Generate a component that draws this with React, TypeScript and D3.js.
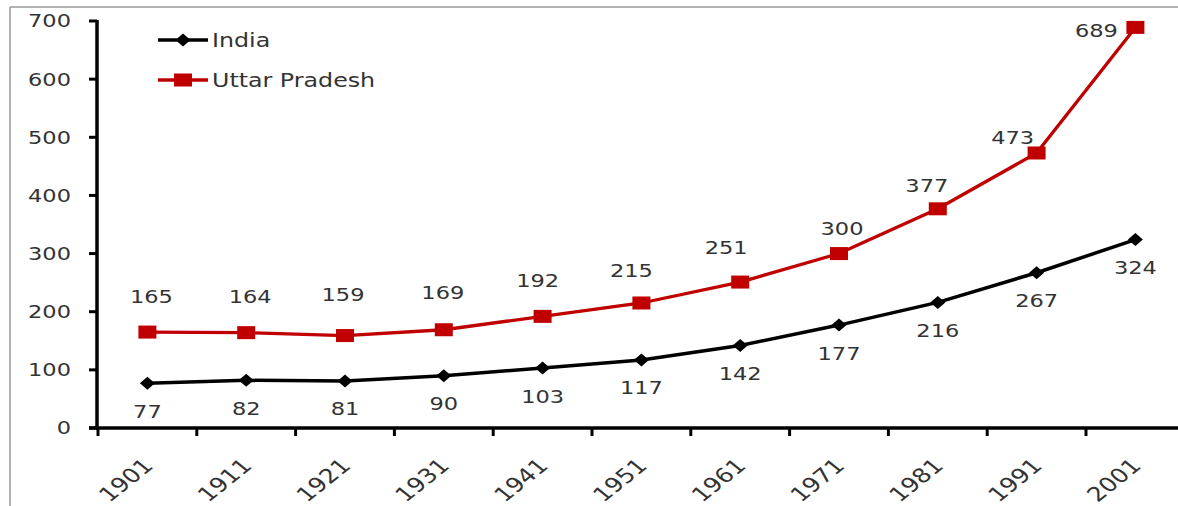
import React, { useEffect } from 'react';
import * as d3 from 'd3';

const years = ['1901', '1911', '1921', '1931', '1941', '1951', '1961', '1971', '1981', '1991', '2001'];
const india = [77, 82, 81, 90, 103, 117, 142, 177, 216, 267, 324];
const uttarPradesh = [165, 164, 159, 169, 192, 215, 251, 300, 377, 473, 689];
const yTicks = [0, 100, 200, 300, 400, 500, 600, 700];
const seriesNames = ['India', 'Uttar Pradesh'];

// label nudges (dx, dy) for Uttar Pradesh data labels
const upNudge: [number, number][] = [
  [4, -36], [4, -36], [-2, -41], [-1, -37], [-5, -36], [-10, -32],
  [-14, -35], [3, -25], [-11, -23], [-24, -15], [-39, 3],
];

const W = 1178;
const H = 506;
const SX = 1.25;
const RED = '#C00000';
const TXT = '#333333';
const FONT = '"DejaVu Sans", Verdana, sans-serif';

export default function App() {
  useEffect(() => {
    document.body.style.margin = '0';
  }, []);

  const x = d3.scaleBand<string>().domain(years).range([98, 98 + 11 * 98.8]).paddingInner(0).paddingOuter(0);
  const y = d3.scaleLinear().domain([0, 700]).range([428, 21]);
  const cx = (d: string) => (x(d) as number) + x.bandwidth() / 2;

  const line = d3
    .line<number>()
    .x((_, i) => cx(years[i]))
    .y((v) => y(v));

  const axisX0 = 97;
  const bandEdges = years.map((yr) => x(yr) as number);

  const diamond = (px: number, py: number, w = 15, h = 13) =>
    `M${px},${py - h / 2}L${px + w / 2},${py}L${px},${py + h / 2}L${px - w / 2},${py}Z`;

  const stretchedText = (
    key: string,
    tx: number,
    ty: number,
    text: string,
    size: number,
    anchor: 'start' | 'middle' | 'end'
  ) => (
    <text
      key={key}
      transform={`translate(${tx},${ty}) scale(${SX},1)`}
      textAnchor={anchor}
      dy="0.36em"
      fontSize={size}
      fontFamily={FONT}
      fill={TXT}
    >
      {text}
    </text>
  );

  return (
    <svg width={W} height={H} style={{ display: 'block', background: '#fff' }}>
      {/* frame */}
      <line x1={10} y1={7} x2={W} y2={7} stroke="#9a9a9a" strokeWidth={1.5} />
      <line x1={10} y1={7} x2={10} y2={H} stroke="#9a9a9a" strokeWidth={1.5} />

      {/* y axis */}
      <line x1={axisX0} y1={y(700) - 1} x2={axisX0} y2={y(0)} stroke="#000" strokeWidth={3.5} />
      {yTicks.map((t) => (
        <g key={'yt' + t}>
          <line x1={axisX0 - 8} x2={axisX0} y1={y(t)} y2={y(t)} stroke="#000" strokeWidth={3} />
          {stretchedText('ytl' + t, 71, y(t), String(t), 18, 'end')}
        </g>
      ))}

      {/* x axis */}
      <line x1={axisX0 - 8} y1={y(0)} x2={W} y2={y(0)} stroke="#000" strokeWidth={3.5} />
      {bandEdges.map((e, i) => (
        <line key={'xt' + i} x1={e} x2={e} y1={y(0)} y2={y(0) + 8} stroke="#000" strokeWidth={3} />
      ))}
      {years.map((yr) => (
        <text
          key={'xl' + yr}
          transform={`translate(${cx(yr) + 7},${y(0) + 39}) scale(${SX},1) rotate(-45)`}
          textAnchor="end"
          fontSize={20}
          fontFamily={FONT}
          fill={TXT}
        >
          {yr}
        </text>
      ))}

      {/* series lines */}
      <path d={line(uttarPradesh) || ''} fill="none" stroke={RED} strokeWidth={3.3} />
      <path d={line(india) || ''} fill="none" stroke="#000" strokeWidth={3.5} />

      {/* markers */}
      {uttarPradesh.map((v, i) => (
        <rect key={'upm' + i} x={cx(years[i]) - 9} y={y(v) - 6.5} width={18} height={13} fill={RED} />
      ))}
      {india.map((v, i) => (
        <path key={'inm' + i} d={diamond(cx(years[i]), y(v))} fill="#000" />
      ))}

      {/* data labels */}
      {uttarPradesh.map((v, i) =>
        stretchedText('upl' + i, cx(years[i]) + upNudge[i][0], y(v) + upNudge[i][1], String(v), 18, 'middle')
      )}
      {india.map((v, i) => stretchedText('inl' + i, cx(years[i]), y(v) + 28, String(v), 18, 'middle'))}

      {/* legend */}
      <line x1={158} x2={208} y1={40} y2={40} stroke="#000" strokeWidth={3.5} />
      <path d={diamond(183, 40)} fill="#000" />
      {stretchedText('lg0', 212, 40, seriesNames[0], 19, 'start')}
      <line x1={158} x2={208} y1={80} y2={80} stroke={RED} strokeWidth={3.3} />
      <rect x={174} y={73.5} width={18} height={13} fill={RED} />
      {stretchedText('lg1', 212, 80, seriesNames[1], 19, 'start')}
    </svg>
  );
}
